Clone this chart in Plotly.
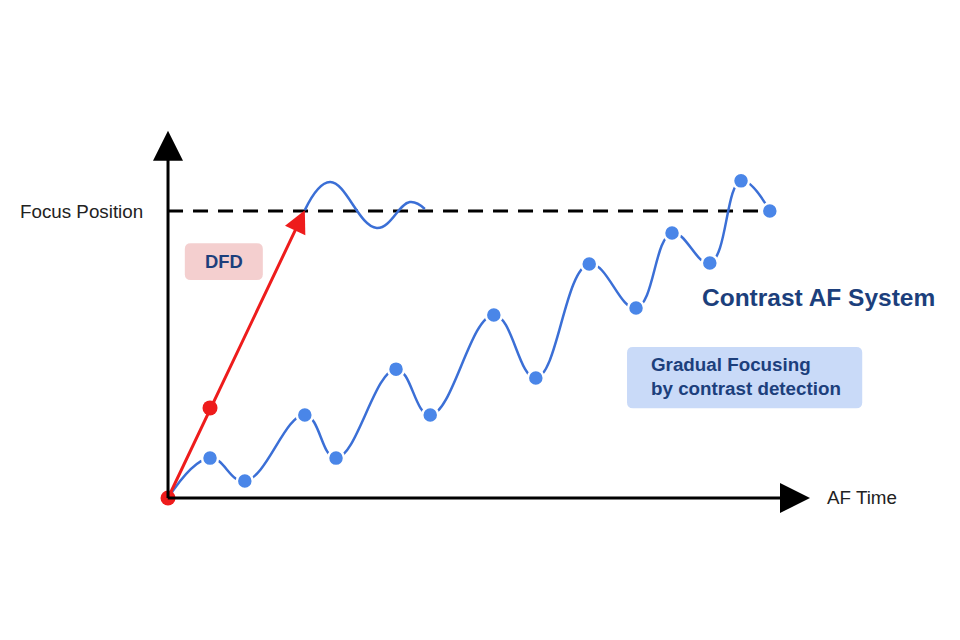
import plotly.graph_objects as go

# contrast AF: gradual hunting towards focus (time, position)
contrast_x = [0.0, 0.70, 1.28, 2.28, 2.80, 3.80, 4.37, 5.43, 6.13, 7.02, 7.80, 8.40, 9.03, 9.55, 10.03]
contrast_y = [0.0, 1.39, 0.59, 2.89, 1.39, 4.49, 2.89, 6.38, 4.18, 8.15, 6.62, 9.23, 8.19, 11.05, 10.00]

# DFD: straight jump then a small settle around focus
dfd_x = [0.0, 0.70, 2.28]
dfd_y = [0.0, 3.14, 10.03]
settle_x = [2.28, 2.70, 3.48, 4.03, 4.28]
settle_y = [10.03, 11.01, 9.41, 10.31, 10.07]

focus_pos = 10.0
x_end = 10.7
y_end = 12.8

BLUE_LINE = '#3b6fd6'
BLUE_DOT = '#4a86e8'
RED = '#ee1c1c'
NAVY = '#1c3f7c'
FONT = 'Liberation Sans, Arial, sans-serif'


def rounded_rect(x0, y0, x1, y1, rx, ry):
    return (f'M {x0+rx},{y0} L {x1-rx},{y0} Q {x1},{y0} {x1},{y0+ry} '
            f'L {x1},{y1-ry} Q {x1},{y1} {x1-rx},{y1} L {x0+rx},{y1} '
            f'Q {x0},{y1} {x0},{y1-ry} L {x0},{y0+ry} Q {x0},{y0} {x0+rx},{y0} Z')


fig = go.Figure()

# dashed focus position line
fig.add_trace(go.Scatter(
    x=[0, contrast_x[-1]], y=[focus_pos, focus_pos], mode='lines',
    line=dict(color='black', width=3, dash='15px,10px'), hoverinfo='skip'))

fig.add_trace(go.Scatter(
    x=settle_x, y=settle_y, mode='lines',
    line=dict(color=BLUE_LINE, width=2.5, shape='spline', smoothing=1.2),
    hoverinfo='skip'))

fig.add_trace(go.Scatter(
    x=contrast_x, y=contrast_y, mode='lines',
    line=dict(color=BLUE_LINE, width=2.5, shape='spline', smoothing=1.2),
    hoverinfo='skip'))
fig.add_trace(go.Scatter(
    x=contrast_x[1:], y=contrast_y[1:], mode='markers',
    marker=dict(color=BLUE_DOT, size=16, line=dict(color='white', width=2.5)),
    hoverinfo='skip'))

fig.add_trace(go.Scatter(
    x=dfd_x[:2], y=dfd_y[:2], mode='markers',
    marker=dict(color=RED, size=15, line=dict(width=0)), hoverinfo='skip'))

# red DFD arrow
fig.add_annotation(x=dfd_x[-1], y=dfd_y[-1], ax=dfd_x[0], ay=dfd_y[0],
                   xref='x', yref='y', axref='x', ayref='y', text='',
                   showarrow=True, arrowhead=2, arrowsize=1.5, arrowwidth=3,
                   arrowcolor=RED)

# axes with arrow heads
fig.add_annotation(x=x_end, y=0, ax=-0.03, ay=0, xref='x', yref='y',
                   axref='x', ayref='y', text='', showarrow=True,
                   arrowhead=2, arrowsize=2, arrowwidth=3, arrowcolor='black')
fig.add_annotation(x=0, y=y_end, ax=0, ay=-0.05, xref='x', yref='y',
                   axref='x', ayref='y', text='', showarrow=True,
                   arrowhead=2, arrowsize=2, arrowwidth=3, arrowcolor='black')

# label boxes
fig.add_shape(type='path', path=rounded_rect(0.28, 7.60, 1.58, 8.88, 0.1, 0.2),
              fillcolor='#f4cfcf', line=dict(width=0), layer='below')
fig.add_shape(type='path', path=rounded_rect(7.65, 3.13, 11.57, 5.26, 0.1, 0.2),
              fillcolor='#c9daf8', line=dict(width=0), layer='below')

fig.add_annotation(x=-0.38, y=focus_pos, text='Focus Position', showarrow=False,
                   xanchor='right', font=dict(family=FONT, size=18.8, color='#222222'))
fig.add_annotation(x=10.95, y=0.03, text='AF Time', showarrow=False,
                   xanchor='left', font=dict(family=FONT, size=18.8, color='#222222'))
fig.add_annotation(x=0.93, y=8.24, text='<b>DFD</b>', showarrow=False,
                   font=dict(family=FONT, size=18.4, color=NAVY))
fig.add_annotation(x=8.87, y=7.0, text='<b>Contrast AF System</b>', showarrow=False,
                   xanchor='left', font=dict(family=FONT, size=24.5, color=NAVY))
fig.add_annotation(x=8.02, y=4.25, text='<b>Gradual Focusing<br>by contrast detection</b>',
                   showarrow=False, xanchor='left', align='left',
                   font=dict(family=FONT, size=18.8, color=NAVY))

# ranges account for the 8px page margin so the drawing sits where the reference does
fig.update_layout(
    width=960, height=640,
    margin=dict(l=0, r=0, t=0, b=0),
    paper_bgcolor='white', plot_bgcolor='white',
    showlegend=False,
    xaxis=dict(range=[-2.667, 13.333], visible=False, fixedrange=True),
    yaxis=dict(range=[-5.226, 17.073], visible=False, fixedrange=True),
)

fig.write_html("out.html")
